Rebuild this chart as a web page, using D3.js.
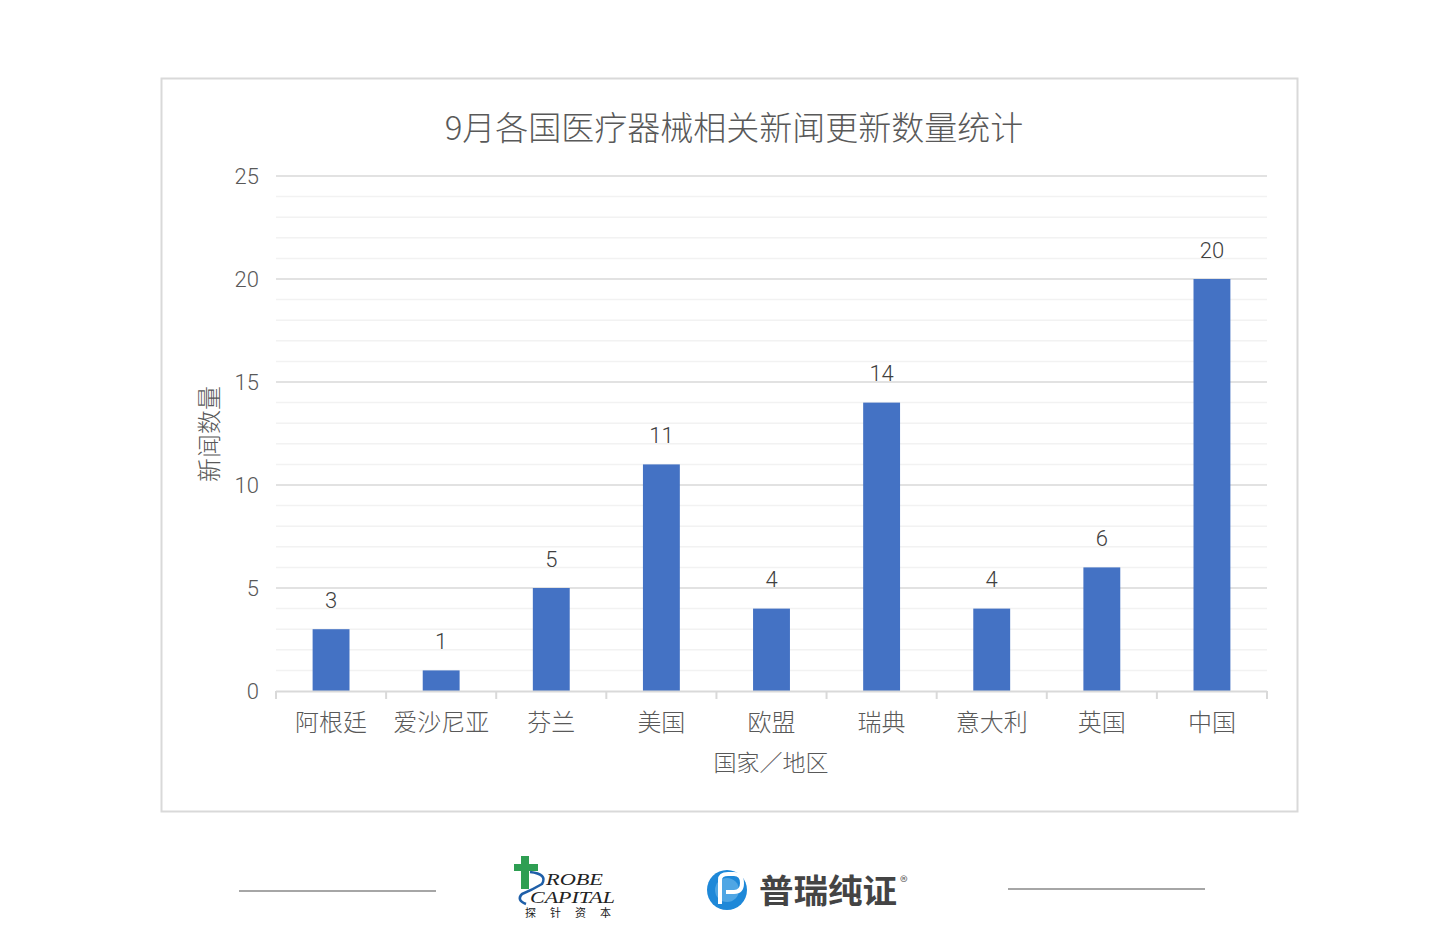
<!DOCTYPE html>
<html><head><meta charset="utf-8">
<script src="https://cdn.jsdelivr.net/npm/d3@7"></script>
<style>body{margin:0;background:#fff;} svg{display:block;font-family:"Noto Sans CJK SC","Noto Sans",sans-serif;}</style>
</head><body>
<svg id="c" width="1440" height="945"></svg>
<script>
const categories = ["阿根廷","爱沙尼亚","芬兰","美国","欧盟","瑞典","意大利","英国","中国"];
const values = [3,1,5,11,4,14,4,6,20];
const yTicks = [0,5,10,15,20,25];
const titleText = "9月各国医疗器械相关新闻更新数量统计";
const xTitle = "国家／地区";
const yTitle = "新闻数量";

const svg = d3.select("#c");
const L=276, R=1267, T=176, B=691;
const numFont = "Roboto, 'Noto Sans', sans-serif";
svg.append("rect").attr("x",161.5).attr("y",78.5).attr("width",1136).attr("height",733)
  .attr("fill","#fff").attr("stroke","#d9d9d9").attr("stroke-width",2);

const x = d3.scaleBand().domain(categories).range([L,R]).paddingInner(0.665).paddingOuter(0.3325);
const y = d3.scaleLinear().domain([0,25]).range([B,T]);

// minor gridlines
svg.append("g").selectAll("line").data(d3.range(1,26).filter(v=>v%5!==0)).join("line")
  .attr("x1",L).attr("x2",R).attr("y1",d=>y(d)).attr("y2",d=>y(d))
  .attr("stroke","#f2f2f2").attr("stroke-width",1.5);
// major gridlines
svg.append("g").selectAll("line").data(yTicks.filter(v=>v>0)).join("line")
  .attr("x1",L).attr("x2",R).attr("y1",d=>y(d)).attr("y2",d=>y(d))
  .attr("stroke","#d9d9d9").attr("stroke-width",1.5);

// y axis labels
svg.append("g").selectAll("text").data(yTicks).join("text")
  .attr("x",259).attr("y",d=>y(d)).attr("dy","0.35em").attr("text-anchor","end")
  .attr("font-size",22).attr("font-weight",300).attr("fill","#595959").attr("font-family",numFont).text(d=>d);

// bars
svg.append("g").selectAll("rect").data(values).join("rect")
  .attr("x",(d,i)=>x(categories[i])).attr("width",x.bandwidth())
  .attr("y",d=>y(d)).attr("height",d=>B-y(d)).attr("fill","#4472c4");

// value labels
svg.append("g").selectAll("text").data(values).join("text")
  .attr("x",(d,i)=>x(categories[i])+x.bandwidth()/2).attr("y",d=>y(d)-29)
  .attr("dy","0.35em").attr("text-anchor","middle").attr("font-size",22).attr("font-weight",300).attr("fill","#404040")
  .attr("font-family",numFont).text(d=>d);

// x axis line and ticks
svg.append("line").attr("x1",L).attr("x2",R).attr("y1",B+0.5).attr("y2",B+0.5).attr("stroke","#d9d9d9").attr("stroke-width",2);
const edges = categories.map(c=>x(c)-x.step()*x.paddingInner()/2).concat([R]);
svg.append("g").selectAll("line").data(edges).join("line")
  .attr("x1",d=>d).attr("x2",d=>d).attr("y1",B).attr("y2",B+8).attr("stroke","#d9d9d9").attr("stroke-width",2);

svg.append("g").selectAll("text").data(categories).join("text")
  .attr("x",d=>x(d)+x.bandwidth()/2).attr("y",731).attr("text-anchor","middle")
  .attr("font-size",24).attr("font-weight",300).attr("fill","#595959").text(d=>d);

svg.append("text").attr("x",771).attr("y",771).attr("text-anchor","middle")
  .attr("font-size",23).attr("font-weight",300).attr("fill","#595959").text(xTitle);
svg.append("text").attr("transform","translate(218,434) rotate(-90)").attr("text-anchor","middle")
  .attr("font-size",24).attr("font-weight",300).attr("fill","#595959").text(yTitle);
svg.append("text").attr("x",734).attr("y",140).attr("text-anchor","middle")
  .attr("font-size",33).attr("font-weight",300).attr("fill","#595959").text(titleText);

// footer lines
svg.append("line").attr("x1",239).attr("x2",436).attr("y1",891).attr("y2",891).attr("stroke","#a6a6a6").attr("stroke-width",2);
svg.append("line").attr("x1",1008).attr("x2",1205).attr("y1",889).attr("y2",889).attr("stroke","#a6a6a6").attr("stroke-width",2);

// Probe Capital logo
const pl = svg.append("g");
pl.append("path").attr("d","M521 856 h8 v8 h9 v7 h-9 v18 h-8 v-18 h-7 v-7 h7z").attr("fill","#2e9e52");
pl.append("path").attr("d","M530 872 q18 2 12 12 q-10 6 -20 10 q-6 6 4 10").attr("fill","none").attr("stroke","#1f5fa8").attr("stroke-width",2.5);
pl.append("text").attr("x",546).attr("y",885).attr("font-size",16).attr("font-style","italic").attr("font-family","'Liberation Serif',serif").attr("fill","#222")
  .attr("textLength",57).attr("lengthAdjust","spacingAndGlyphs").text("ROBE");
pl.append("text").attr("x",530).attr("y",903).attr("font-size",16).attr("font-style","italic").attr("font-family","'Liberation Serif',serif").attr("fill","#222")
  .attr("textLength",85).attr("lengthAdjust","spacingAndGlyphs").text("CAPITAL");
pl.append("text").attr("x",525).attr("y",917).attr("font-size",11).attr("fill","#222").attr("letter-spacing","14").text("探针资本");

// PuRui logo
const pr = svg.append("g");
pr.append("circle").attr("cx",727).attr("cy",890).attr("r",20).attr("fill","#1e88d8");
pr.append("circle").attr("cx",727).attr("cy",890).attr("r",12).attr("fill","#7fc4f0").attr("opacity",0.5);
pr.append("path").attr("d","M720 904 v-24 q0 -6 8 -6 h6 q8 0 8 9 q0 9 -8 9 h-8").attr("fill","none").attr("stroke","#fff").attr("stroke-width",4);
pr.append("text").attr("x",759).attr("y",903).attr("font-size",33).attr("font-weight","bold").attr("fill","#444")
  .attr("textLength",138).attr("lengthAdjust","spacingAndGlyphs").text("普瑞纯证");
pr.append("text").attr("x",900).attr("y",888).attr("font-size",16).attr("fill","#666").text("®");
</script>
</body></html>
